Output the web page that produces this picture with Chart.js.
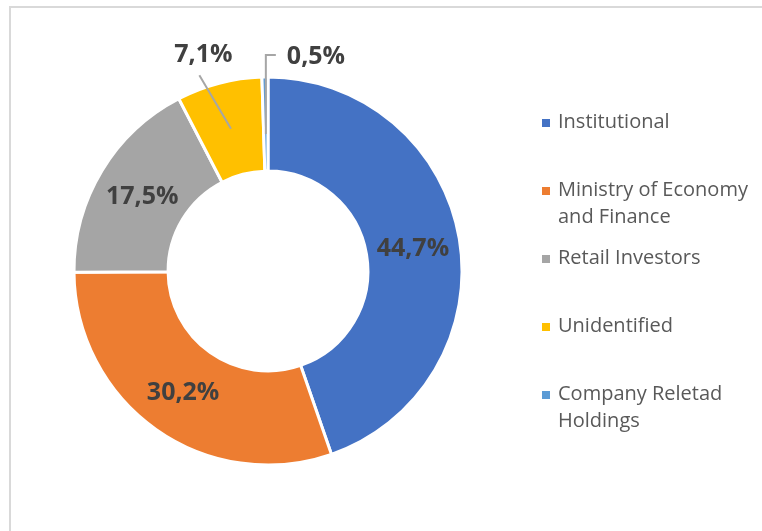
<!DOCTYPE html>
<html>
<head>
<meta charset="utf-8">
<script src="https://cdn.jsdelivr.net/npm/chart.js@4"></script>
<style>
  html, body { margin: 0; padding: 0; background: #fff; overflow: hidden; }
  #wrap { position: relative; width: 762px; height: 531px; }
  #frame {
    position: absolute; left: 9px; top: 6px; right: -10px; bottom: -10px;
    border-top: 2px solid #d9d9d9; border-left: 2px solid #d9d9d9;
  }
  canvas { position: absolute; left: 0; top: 0; }
</style>
</head>
<body>
<div id="wrap">
  <div id="frame"></div>
  <canvas id="chart" width="762" height="531"></canvas>
</div>
<script>
  const categories = [
    "Institutional",
    ["Ministry of Economy", "and Finance"],
    "Retail Investors",
    "Unidentified",
    ["Company Reletad", "Holdings"],
  ];
  const shares = [44.7, 30.2, 17.5, 7.1, 0.5];
  const sliceColors = ["#4472C4", "#ED7D31", "#A5A5A5", "#FFC000", "#5B9BD5"];

  function fmtPct(v) {
    return v.toFixed(1).replace(".", ",") + "%";
  }

  // percentage labels: inside for big slices, leader lines for small ones
  const sliceLabels = {
    id: "sliceLabels",
    afterDatasetsDraw(chart) {
      const ctx = chart.ctx;
      const meta = chart.getDatasetMeta(0);
      ctx.save();
      ctx.font = "bold 25px 'Open Sans'";
      ctx.fillStyle = "#404040";
      ctx.textBaseline = "middle";
      ctx.strokeStyle = "#a6a6a6";
      ctx.lineWidth = 2;
      meta.data.forEach((arc, i) => {
        const v = shares[i];
        const { x, y, startAngle, endAngle, innerRadius, outerRadius } = arc.getProps(
          ["x", "y", "startAngle", "endAngle", "innerRadius", "outerRadius"], true);
        const mid = (startAngle + endAngle) / 2;
        const midR = (innerRadius + outerRadius) / 2;
        const px = x + Math.cos(mid) * midR;
        const py = y + Math.sin(mid) * midR;
        if (v >= 10) {
          ctx.textAlign = "center";
          ctx.fillText(fmtPct(v), px, py + 2);
          return;
        }
        if (v >= 2) {
          const lr = outerRadius + 31;
          const lx = x + Math.cos(mid) * lr - 8;
          const ly = y + Math.sin(mid) * lr;
          ctx.beginPath();
          ctx.moveTo(px, py);
          ctx.lineTo(lx - 4, ly + 22);
          ctx.stroke();
          ctx.textAlign = "center";
          ctx.fillText(fmtPct(v), lx, ly + 2);
        } else {
          const ly = y - outerRadius - 22;
          const r0 = midR - 10;
          const sx = x + Math.cos(mid) * r0;
          const sy = y + Math.sin(mid) * r0;
          ctx.beginPath();
          ctx.moveTo(sx, sy);
          ctx.lineTo(sx, ly);
          ctx.lineTo(sx + 10, ly);
          ctx.stroke();
          ctx.textAlign = "left";
          ctx.fillText(fmtPct(v), sx + 21, ly + 2);
        }
      });
      ctx.restore();
    },
  };

  // legend on the right, one slot per item, wrapped names on two lines
  const sideLegend = {
    id: "sideLegend",
    afterDraw(chart) {
      const ctx = chart.ctx;
      ctx.save();
      ctx.font = "20px 'Open Sans'";
      ctx.textBaseline = "middle";
      ctx.textAlign = "left";
      let y = 123;
      chart.data.labels.forEach((lab, i) => {
        const lines = Array.isArray(lab) ? lab : [lab];
        ctx.fillStyle = sliceColors[i];
        ctx.fillRect(542, y - 4, 8, 8);
        ctx.fillStyle = "#595959";
        lines.forEach((t, j) => ctx.fillText(t, 558, y - 1 + j * 27));
        y += 68;
      });
      ctx.restore();
    },
  };

  new Chart(document.getElementById("chart"), {
    type: "doughnut",
    data: {
      labels: categories,
      datasets: [
        {
          data: shares,
          backgroundColor: sliceColors,
          borderColor: "#ffffff",
          borderWidth: 3,
          hoverOffset: 0,
        },
      ],
    },
    options: {
      responsive: false,
      animation: false,
      radius: 194,
      cutout: "51.5%",
      layout: { padding: { left: 20, right: 246, top: 30, bottom: 19 } },
      plugins: {
        legend: { display: false },
        tooltip: { enabled: false },
      },
      events: [],
    },
    plugins: [sliceLabels, sideLegend],
  });
</script>
</body>
</html>
